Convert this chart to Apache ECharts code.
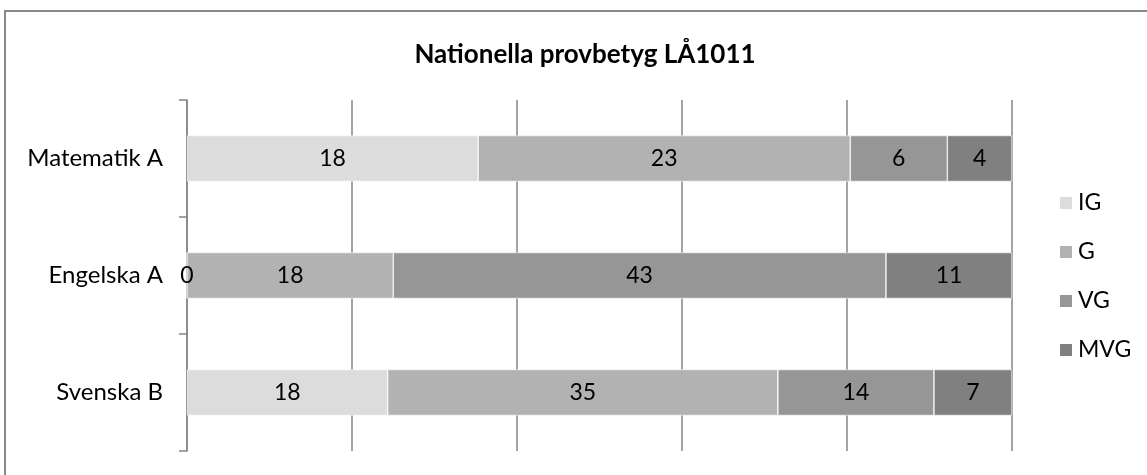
<!DOCTYPE html>
<html>
<head>
<meta charset="utf-8">
<script src="https://cdn.jsdelivr.net/npm/echarts@6/dist/echarts.min.js"></script>
<style>
html,body{margin:0;padding:0;background:#fff;}
#chart{width:1147px;height:475px;}
</style>
</head>
<body>
<div id="chart"></div>
<script>
// Categories listed bottom-to-top (ECharts category y-axis starts at bottom)
const categories = ["Svenska B", "Engelska A", "Matematik A"];
const seriesNames = ["IG", "G", "VG", "MVG"];
const valuesIG  = [18, 0, 18];
const valuesG   = [35, 18, 23];
const valuesVG  = [14, 43, 6];
const valuesMVG = [7, 11, 4];
const colors = ["#dcdcdc", "#b2b2b2", "#969696", "#808080"];

const rawSeries = [valuesIG, valuesG, valuesVG, valuesMVG];
const totals = categories.map((c, i) => rawSeries.reduce((s, arr) => s + arr[i], 0));

const FONT = "Lato";

const series = rawSeries.map((arr, si) => ({
  name: seriesNames[si],
  type: "bar",
  stack: "total",
  barWidth: 46,
  data: arr.map((v, i) => ({ value: v / totals[i] * 100, raw: v })),
  itemStyle: { color: colors[si], borderColor: "#ffffff", borderWidth: 0.6 },
  label: {
    show: true,
    position: "inside",
    color: "#000",
    fontFamily: FONT,
    fontSize: 23,
    formatter: p => String(p.data.raw)
  },
  emphasis: { disabled: true }
}));

const chart = echarts.init(document.getElementById("chart"), null, { renderer: "canvas" });
chart.setOption({
  animation: false,
  backgroundColor: "#ffffff",
  title: {
    text: "Nationella provbetyg LÅ1011",
    left: 580,
    top: 37,
    textAlign: "center",
    textStyle: { fontFamily: FONT, fontWeight: "bold", fontSize: 26, color: "#000" }
  },
  legend: {
    orient: "vertical",
    left: 1053,
    top: 186,
    itemWidth: 14,
    itemHeight: 14,
    itemGap: 25,
    icon: "rect",
    data: seriesNames,
    textStyle: { fontFamily: FONT, fontSize: 23, color: "#000", lineHeight: 24 }
  },
  grid: { left: 187, right: 135, top: 100, bottom: 24, containLabel: false },
  xAxis: {
    type: "value",
    min: 0,
    max: 100,
    interval: 20,
    axisLabel: { show: false },
    axisLine: { show: false },
    axisTick: { show: false },
    splitLine: { show: true, lineStyle: { color: "#868686", width: 1.5 } }
  },
  yAxis: {
    type: "category",
    data: categories,
    axisLine: { show: true, lineStyle: { color: "#868686", width: 1.5 } },
    axisTick: { show: true, length: 8, lineStyle: { color: "#868686", width: 1.5 } },
    axisLabel: { margin: 24, fontFamily: FONT, fontSize: 24, color: "#000" }
  },
  graphic: [{
    type: "rect",
    shape: { x: 5, y: 11, width: 1300, height: 600 },
    style: { fill: null, stroke: "#888888", lineWidth: 2 },
    silent: true,
    z: 100
  }],
  series: series
});
</script>
</body>
</html>
